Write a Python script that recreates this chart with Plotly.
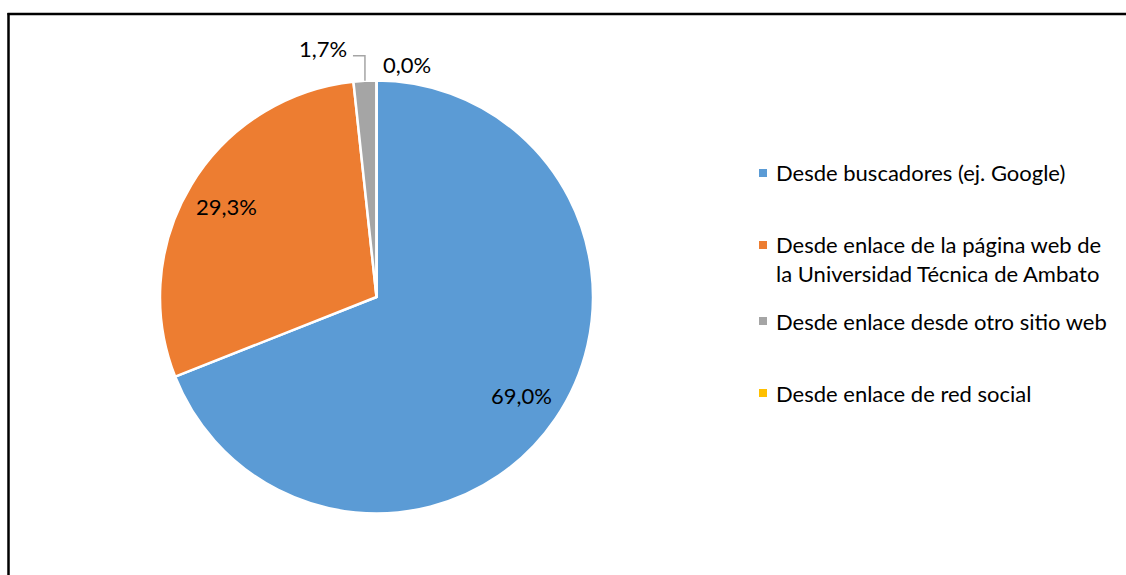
import math
import plotly.graph_objects as go

# Data
categories = [
    "Desde buscadores (ej. Google)",
    "Desde enlace de la página web de la Universidad Técnica de Ambato",
    "Desde enlace desde otro sitio web",
    "Desde enlace de red social",
]
legend_text = [
    "Desde buscadores (ej. Google)",
    "Desde enlace de la página web de<br>la Universidad Técnica de Ambato",
    "Desde enlace desde otro sitio web",
    "Desde enlace de red social",
]
values = [69.0, 29.3, 1.7, 0.0]
colors = ["#5B9BD5", "#ED7D31", "#A5A5A5", "#FFC000"]

W, H = 1126, 575
FONT = "Lato"
FS = 22

# Pie geometry in pixels
CX, CY, R = 376.5, 297.0, 216.5


def px(x):
    return x / W


def py(y):
    return 1 - y / H


fig = go.Figure()
fig.add_trace(go.Pie(
    labels=categories,
    values=values,
    sort=False,
    direction="clockwise",
    rotation=0,
    marker=dict(colors=colors, line=dict(color="white", width=2.5)),
    textinfo="none",
    hoverinfo="label+percent",
    showlegend=False,
    domain=dict(x=[px(CX - R), px(CX + R)], y=[py(CY + R), py(CY - R)]),
))

total = sum(values)
annotations = []
shapes = []


def fmt(v):
    return f"{v:.1f}".replace(".", ",") + "%"


cum = 0.0
for i, v in enumerate(values):
    mid = (cum + v / 2) / total * 2 * math.pi
    cum += v
    dx, dy = math.sin(mid), -math.cos(mid)
    if v / total > 0.1:
        # label inside the slice
        lx, ly = CX + 0.81 * R * dx, CY + 0.81 * R * dy
        annotations.append(dict(x=px(lx), y=py(ly), xref="paper", yref="paper",
                                text=fmt(v), showarrow=False,
                                font=dict(family=FONT, size=FS, color="#000000"),
                                xanchor="center", yanchor="middle"))
    elif v > 0:
        # outside label with a leader line
        ex, ey = CX + R * dx, CY + R * dy
        ky = ey - 25
        kx0 = ex - 12
        shapes.append(dict(type="path", xref="paper", yref="paper",
                           path=f"M {px(ex)},{py(ey)} L {px(ex)},{py(ky)} L {px(kx0)},{py(ky)}",
                           line=dict(color="#A5A5A5", width=1.5)))
        annotations.append(dict(x=px(kx0 - 4), y=py(ky - 7), xref="paper", yref="paper",
                                text=fmt(v), showarrow=False,
                                font=dict(family=FONT, size=FS, color="#000000"),
                                xanchor="right", yanchor="middle"))
    else:
        ex, ey = CX + R * dx, CY + R * dy
        annotations.append(dict(x=px(ex + 5), y=py(ey - 16), xref="paper", yref="paper",
                                text=fmt(v), showarrow=False,
                                font=dict(family=FONT, size=FS, color="#000000"),
                                xanchor="left", yanchor="middle"))

# Legend drawn as swatches and text
legend_y = [172, 259, 321, 393]
swatch_y = [173, 245, 321, 393]
for t, c, ty, sy in zip(legend_text, colors, legend_y, swatch_y):
    shapes.append(dict(type="rect", xref="paper", yref="paper",
                       x0=px(759), x1=px(767), y0=py(sy - 4), y1=py(sy + 4),
                       fillcolor=c, line=dict(width=0)))
    annotations.append(dict(x=px(774), y=py(ty), xref="paper", yref="paper",
                            text=t, showarrow=False, align="left",
                            font=dict(family=FONT, size=FS, color="#000000"),
                            xanchor="left", yanchor="middle"))

# Chart frame (left and top edges)
shapes.append(dict(type="line", xref="paper", yref="paper",
                   x0=px(8.5), x1=px(8.5), y0=py(13), y1=0,
                   line=dict(color="#000000", width=2.5)))
shapes.append(dict(type="line", xref="paper", yref="paper",
                   x0=px(7.5), x1=1, y0=py(14), y1=py(14),
                   line=dict(color="#000000", width=2.5)))

fig.update_layout(
    width=W, height=H,
    margin=dict(l=0, r=0, t=0, b=0),
    paper_bgcolor="white",
    plot_bgcolor="white",
    annotations=annotations,
    shapes=shapes,
    font=dict(family=FONT, size=FS),
)

fig.write_html("out.html")
